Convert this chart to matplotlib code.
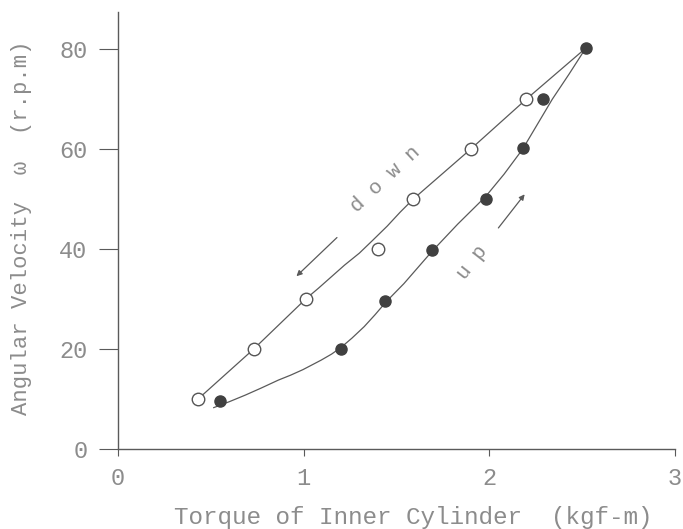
import numpy as np
import matplotlib
matplotlib.use("Agg")
import matplotlib.pyplot as plt

# measured points, torque [kgf-m] vs angular velocity [rpm]
down_x = [0.43, 0.73, 1.01, 1.40, 1.59, 1.90, 2.20]
down_y = [10, 20, 30, 40, 50, 60, 70]
up_x = [0.55, 1.20, 1.44, 1.69, 1.98, 2.18, 2.29, 2.52]
up_y = [9.7, 20, 29.7, 39.9, 50, 60.2, 70.1, 80.2]

# hand drawn curves through the points
down_curve_x = [0.43, 0.73, 1.01, 1.08, 1.15, 1.22, 1.30, 1.37, 1.45, 1.52, 1.59, 1.90, 2.20, 2.52]
down_curve_y = [10, 20, 30, 32.2, 34.5, 36.8, 39.2, 41.7, 44.6, 47.4, 50, 60, 70, 80.2]
up_curve_x = [0.515, 0.60, 0.685, 0.77, 0.863, 0.93, 0.996, 1.094, 1.15, 1.20, 1.26, 1.326,
              1.385, 1.445, 1.54, 1.69, 1.83, 1.98, 2.08, 2.18, 2.26, 2.34, 2.43, 2.52]
up_curve_y = [8.3, 9.5, 10.8, 12.2, 13.8, 14.8, 15.9, 17.8, 19.0, 20.3, 22.2, 24.5,
              26.9, 29.5, 33.1, 39.5, 45.0, 50.5, 55.0, 60.0, 65.0, 70.0, 75.0, 80.2]

# direction arrows: (tail, head)
down_arrow = [(1.19, 42.7), (0.95, 34.2)]
up_arrow = [(2.04, 43.8), (2.20, 51.4)]

xticks = [0, 1, 2, 3]
yticks = [0, 20, 40, 60, 80]

fam = ["Liberation Mono", "DejaVu Sans Mono"]
tcol = "#8c8c8c"
lcol = "#5a5a5a"

fig = plt.figure(figsize=(6.83, 5.29), dpi=100)
ax = fig.add_axes([0.173, 0.151, 0.815, 0.827])

ax.plot(down_curve_x, down_curve_y, color=lcol, lw=0.9)
ax.plot(up_curve_x, up_curve_y, color=lcol, lw=0.9)
ax.plot(down_x, down_y, "o", ms=9, mfc="white", mec="#555555", mew=1.0)
ax.plot(up_x, up_y, "o", ms=8, mfc="#404040", mec="#404040")

for tail, head in [down_arrow, up_arrow]:
    ax.annotate("", xy=head, xytext=tail,
                arrowprops=dict(arrowstyle="-|>", color=lcol, lw=0.9, mutation_scale=8))

ax.text(1.44, 53.9, "d o w n", rotation=43, ha="center", va="center",
        family=fam, fontsize=15, color=tcol)
ax.text(1.91, 37.4, "u p", rotation=52, ha="center", va="center",
        family=fam, fontsize=15, color=tcol)

ax.set_xlim(0, 3)
ax.set_ylim(0, 87.5)
ax.spines["top"].set_visible(False)
ax.spines["right"].set_visible(False)
for s in ["left", "bottom"]:
    ax.spines[s].set_color(lcol)
    ax.spines[s].set_linewidth(1.0)

ax.set_xticks(xticks)
ax.set_yticks(yticks)
ax.tick_params(axis="x", length=5, width=0.8, color=lcol, pad=8, labelsize=17, labelcolor=tcol)
ax.tick_params(axis="y", length=14, width=0.8, color=lcol, pad=8, labelsize=17, labelcolor=tcol)
for lab in ax.get_xticklabels() + ax.get_yticklabels():
    lab.set_family(fam)

fig.text(0.605, 0.022, "Torque of Inner Cylinder  (kgf-m)", ha="center", va="center",
         family=fam, fontsize=17.5, color=tcol)
fig.text(0.031, 0.569, "Angular Velocity  \u03c9  (r.p.m)", rotation=90, ha="center", va="center",
         family=fam, fontsize=16, color=tcol)

fig.savefig("out.png", dpi=100)
